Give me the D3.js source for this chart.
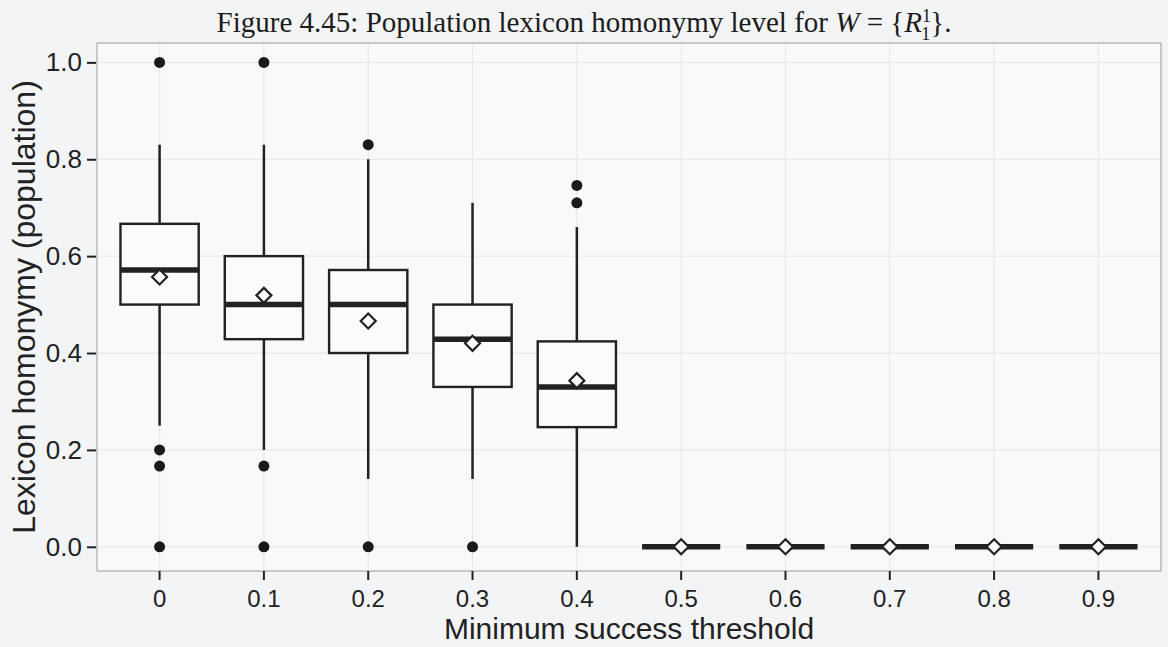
<!DOCTYPE html>
<html>
<head>
<meta charset="utf-8">
<script src="https://cdn.jsdelivr.net/npm/d3@7"></script>
<style>
  html, body { margin: 0; padding: 0; background: #f3f4f6; }
  svg { display: block; }
</style>
</head>
<body>
<svg id="chart" width="1168" height="647"></svg>
<script>
// ---- data ----
const categories = ["0", "0.1", "0.2", "0.3", "0.4", "0.5", "0.6", "0.7", "0.8", "0.9"];
const whiskerLow  = [0.25, 0.20, 0.14, 0.14, 0.00, 0, 0, 0, 0, 0];
const q1          = [0.50, 0.4286, 0.40, 0.33, 0.247, 0, 0, 0, 0, 0];
const medians     = [0.5714, 0.50, 0.50, 0.4286, 0.33, 0, 0, 0, 0, 0];
const q3          = [0.6667, 0.60, 0.5714, 0.50, 0.424, 0, 0, 0, 0, 0];
const whiskerHigh = [0.83, 0.83, 0.80, 0.71, 0.66, 0, 0, 0, 0, 0];
const means       = [0.557, 0.519, 0.466, 0.42, 0.343, 0, 0, 0, 0, 0];
const outliers    = [
  [1.0, 0.20, 0.1667, 0.0],
  [1.0, 0.1667, 0.0],
  [0.83, 0.0],
  [0.0],
  [0.746, 0.71],
  [], [], [], [], []
];
const yTicks = [0, 0.2, 0.4, 0.6, 0.8, 1.0];
const captionParts = ["Figure 4.45: Population lexicon homonymy level for "];
const xTitle = "Minimum success threshold";
const yTitle = "Lexicon homonymy (population)";

// ---- layout ----
const svg = d3.select("#chart");
const panel = { left: 97, right: 1161, top: 43, bottom: 571 };
const ink = "#222222";
const sans = "'Liberation Sans', Arial, sans-serif";

const x = d3.scaleBand()
  .domain(categories)
  .range([panel.left, panel.right])
  .paddingInner(0.25)
  .paddingOuter(0.225);

const y = d3.scaleLinear()
  .domain([-0.05, 1.04])
  .range([panel.bottom, panel.top]);

const boxes = categories.map((c, i) => ({
  cat: c, lo: whiskerLow[i], q1: q1[i], med: medians[i], q3: q3[i],
  hi: whiskerHigh[i], mean: means[i], out: outliers[i]
}));

// panel background
svg.append("rect")
  .attr("x", panel.left).attr("y", panel.top)
  .attr("width", panel.right - panel.left).attr("height", panel.bottom - panel.top)
  .attr("fill", "#f8f9fb");

// grid
const grid = svg.append("g").attr("stroke", "#e4e6ea").attr("stroke-width", 1);
grid.selectAll("line.h").data(yTicks).join("line")
  .attr("x1", panel.left).attr("x2", panel.right)
  .attr("y1", d => y(d)).attr("y2", d => y(d));
grid.selectAll("line.v").data(categories).join("line")
  .attr("y1", panel.top).attr("y2", panel.bottom)
  .attr("x1", d => x(d) + x.bandwidth() / 2).attr("x2", d => x(d) + x.bandwidth() / 2);

// panel border
svg.append("rect")
  .attr("x", panel.left).attr("y", panel.top)
  .attr("width", panel.right - panel.left).attr("height", panel.bottom - panel.top)
  .attr("fill", "none").attr("stroke", "#9a9a9e").attr("stroke-width", 1);

// axes
const yAxis = d3.axisLeft(y).tickValues(yTicks).tickFormat(d3.format(".1f")).tickSize(9).tickPadding(5);
const gy = svg.append("g").attr("transform", `translate(${panel.left - 1},0)`).call(yAxis);
gy.select(".domain").remove();
gy.selectAll(".tick line").attr("stroke", ink).attr("stroke-width", 2);
gy.selectAll(".tick text").attr("fill", ink)
  .style("font-family", sans).style("font-size", "26px");

const xAxis = d3.axisBottom(x).tickSize(9).tickPadding(10);
const gx = svg.append("g").attr("transform", `translate(0,${panel.bottom})`).call(xAxis);
gx.select(".domain").remove();
gx.selectAll(".tick line").attr("stroke", ink).attr("stroke-width", 2);
gx.selectAll(".tick text").attr("fill", ink)
  .style("font-family", sans).style("font-size", "24px");

// boxplots
const g = svg.append("g");
const bw = x.bandwidth();
const cx = d => x(d.cat) + bw / 2;

// whiskers
g.selectAll("line.wl").data(boxes).join("line")
  .attr("x1", cx).attr("x2", cx)
  .attr("y1", d => y(d.lo)).attr("y2", d => y(d.q1))
  .attr("stroke", ink).attr("stroke-width", 2.5);
g.selectAll("line.wh").data(boxes).join("line")
  .attr("x1", cx).attr("x2", cx)
  .attr("y1", d => y(d.q3)).attr("y2", d => y(d.hi))
  .attr("stroke", ink).attr("stroke-width", 2.5);

// boxes
g.selectAll("rect.box").data(boxes).join("rect")
  .attr("x", d => x(d.cat)).attr("width", bw)
  .attr("y", d => y(d.q3)).attr("height", d => Math.max(0, y(d.q1) - y(d.q3)))
  .attr("fill", "#fbfbfc").attr("stroke", ink).attr("stroke-width", 2.4);

// medians
g.selectAll("line.med").data(boxes).join("line")
  .attr("x1", d => x(d.cat)).attr("x2", d => x(d.cat) + bw)
  .attr("y1", d => y(d.med)).attr("y2", d => y(d.med))
  .attr("stroke", ink).attr("stroke-width", 5.5);

// outliers
boxes.forEach(b => {
  g.selectAll(null).data(b.out).join("circle")
    .attr("cx", cx(b)).attr("cy", v => y(v)).attr("r", 5.5)
    .attr("fill", "#1a1a1a");
});

// mean diamonds
const dh = 7.5;
g.selectAll("path.mean").data(boxes).join("path")
  .attr("d", d => {
    const px = cx(d), py = y(d.mean);
    return `M${px},${py - dh}L${px + dh},${py}L${px},${py + dh}L${px - dh},${py}Z`;
  })
  .attr("fill", "#fbfbfc").attr("stroke", ink).attr("stroke-width", 2.2);

// axis titles
svg.append("text")
  .attr("x", (panel.left + panel.right) / 2).attr("y", 639)
  .attr("text-anchor", "middle").attr("fill", ink)
  .style("font-family", sans).style("font-size", "30px")
  .text(xTitle);

svg.append("text")
  .attr("transform", `translate(35,${(panel.top + panel.bottom) / 2}) rotate(-90)`)
  .attr("text-anchor", "middle").attr("fill", ink)
  .style("font-family", sans).style("font-size", "32px")
  .text(yTitle);

// caption
const cap = svg.append("text")
  .attr("x", 584).attr("y", 32)
  .attr("text-anchor", "middle").attr("fill", "#1c1c1c")
  .style("font-family", "'Liberation Serif', 'Times New Roman', serif").style("font-size", "29px");
cap.append("tspan").text(captionParts[0]);
cap.append("tspan").style("font-style", "italic").text("W");
cap.append("tspan").text(" = {");
cap.append("tspan").style("font-style", "italic").text("R");
cap.append("tspan").attr("dy", -10).style("font-size", "18px").text("1");
cap.append("tspan").attr("dx", -9).attr("dy", 18).style("font-size", "18px").text("1");
cap.append("tspan").attr("dy", -8).text("}.");
</script>
</body>
</html>
